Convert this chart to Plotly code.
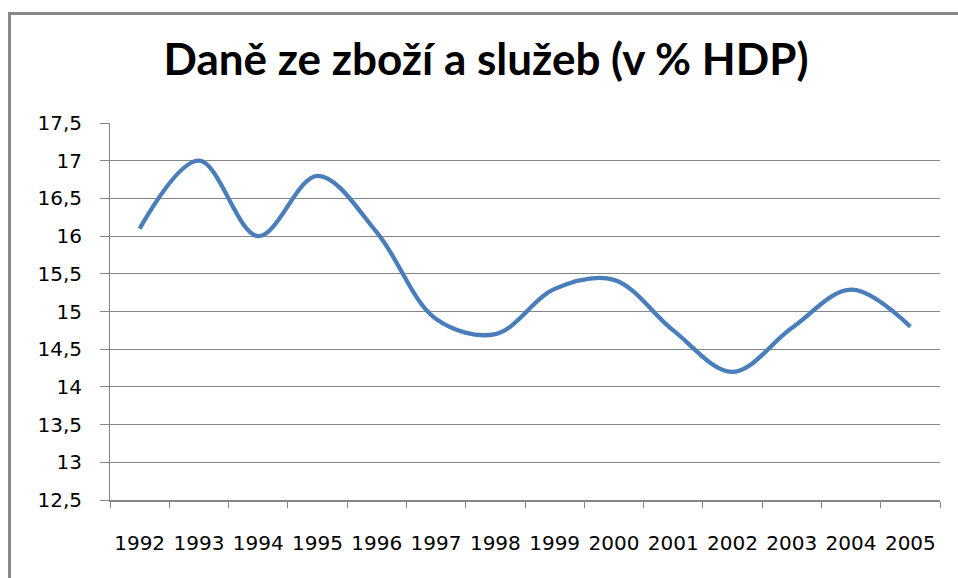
import plotly.graph_objects as go

years = ["1992", "1993", "1994", "1995", "1996", "1997", "1998",
         "1999", "2000", "2001", "2002", "2003", "2004", "2005"]
values = [16.1, 17.0, 16.0, 16.8, 16.05, 14.9, 14.7,
          15.3, 15.42, 14.75, 14.2, 14.78, 15.29, 14.8]
y_ticks = [12.5, 13, 13.5, 14, 14.5, 15, 15.5, 16, 16.5, 17, 17.5]
title_text = "Daně ze zboží a služeb (v % HDP)"

GRID = "#868686"
FONT = "DejaVu Sans"

# plot area in px: x 110..940, y 123..500
pw, ph = 830, 377


def px_x(p):
    return (p - 110) / pw


def px_y(p):
    return (500 - p) / ph


fig = go.Figure()
fig.add_trace(go.Scatter(
    x=years, y=values, mode="lines",
    line=dict(color="#4A7EBB", width=4.3, shape="spline", smoothing=1),
    hoverinfo="x+y", showlegend=False,
))

fig.add_shape(type="rect", xref="paper", yref="paper",
              x0=px_x(9.5), x1=px_x(975), y0=px_y(600), y1=px_y(13.5),
              line=dict(color="#888888", width=3), fillcolor="rgba(0,0,0,0)",
              layer="below")

fig.update_layout(
    width=958, height=578,
    margin=dict(l=110, r=18, t=123, b=78),
    paper_bgcolor="white", plot_bgcolor="white",
    separators=", ",
    title=dict(text=title_text, x=486 / 958, xref="container", xanchor="center",
               y=1 - 60 / 578, yanchor="middle", yref="container",
               font=dict(family="Lato", size=44, color="black", weight="bold")),
    font=dict(family=FONT, size=20, color="black"),
    xaxis=dict(type="category", range=[-0.5, 13.5],
               showgrid=False, showline=True, linecolor=GRID, linewidth=1.5,
               ticks="outside", tickson="boundaries", ticklen=6,
               tickcolor=GRID, tickwidth=1, ticklabelstandoff=24,
               tickangle=0,
               tickfont=dict(family=FONT, size=20, color="black"),
               fixedrange=True),
    yaxis=dict(range=[12.5, 17.5], tickvals=y_ticks,
               showgrid=True, gridcolor=GRID, gridwidth=1,
               showline=True, linecolor=GRID, linewidth=1,
               ticks="outside", ticklen=9, tickcolor=GRID, tickwidth=1,
               ticklabelstandoff=14, zeroline=False,
               tickfont=dict(family=FONT, size=20, color="black"),
               fixedrange=True),
)

fig.write_html(
    "out.html",
    config={"displayModeBar": False},
    post_script="document.body.style.margin='0';document.body.style.overflow='hidden';",
)
